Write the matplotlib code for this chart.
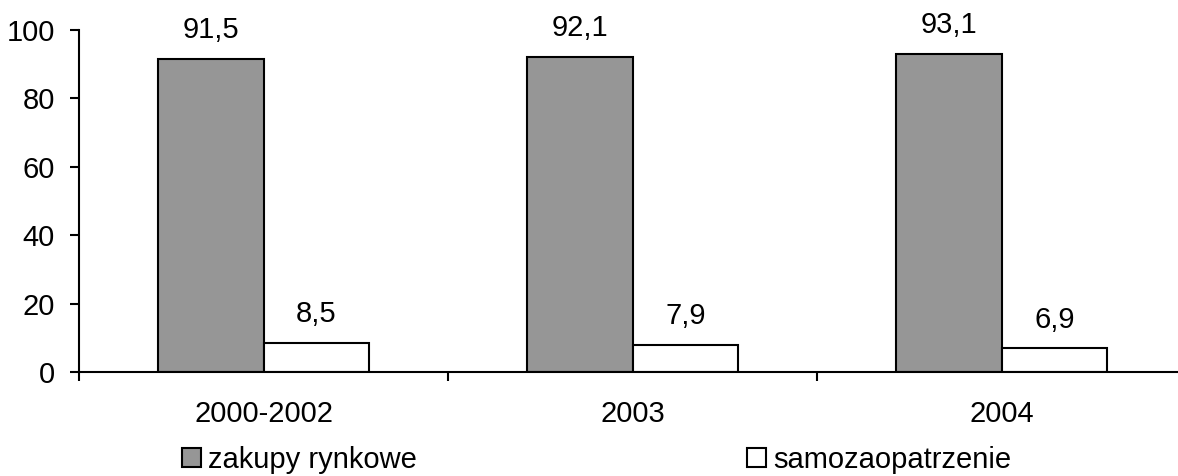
import numpy as np
import matplotlib.pyplot as plt
from matplotlib.patches import Patch

# ---- data ----
categories = ['2000-2002', '2003', '2004']
market = [91.5, 92.1, 93.1]        # zakupy rynkowe
self_supply = [8.5, 7.9, 6.9]      # samozaopatrzenie
labels = ['zakupy rynkowe', 'samozaopatrzenie']

plt.rcParams['font.family'] = ['Liberation Sans', 'DejaVu Sans']
fs = 21

fig = plt.figure(figsize=(11.78, 4.76), dpi=100)
W, H = 1178, 476
ax = fig.add_axes([79 / W, (H - 372) / H, 1107 / W, 342 / H])

x = np.arange(len(categories))
w = 0.287
b1 = ax.bar(x - w / 2, market, w, color='#969696', edgecolor='black', linewidth=1.5)
b2 = ax.bar(x + w / 2, self_supply, w, color='white', edgecolor='black', linewidth=1.5)

for bars, vals in [(b1, market), (b2, self_supply)]:
    for r, v in zip(bars, vals):
        ax.annotate(f'{v:.1f}'.replace('.', ','), (r.get_x() + r.get_width() / 2, v),
                    xytext=(0, 15), textcoords='offset points',
                    ha='center', va='baseline', fontsize=fs)

ax.set_xlim(-0.5, 2.5)
ax.set_ylim(0, 100)
ax.set_yticks(range(0, 101, 20))
ax.tick_params(axis='y', labelsize=fs, length=6.5, width=1.5, pad=11)

# boundaries as major ticks, category names on minor ticks
ax.set_xticks([-0.5, 0.5, 1.5])
ax.set_xticklabels([])
ax.set_xticks(x, minor=True)
ax.set_xticklabels(categories, minor=True)
ax.tick_params(axis='x', which='major', length=6.5, width=1.5)
ax.tick_params(axis='x', which='minor', length=0, labelsize=fs, pad=20)

for s in ['top', 'right']:
    ax.spines[s].set_visible(False)
for s in ['left', 'bottom']:
    ax.spines[s].set_linewidth(1.5)
ax.spines['bottom'].set_clip_on(False)

h1 = Patch(facecolor='#969696', edgecolor='black', linewidth=1.5)
h2 = Patch(facecolor='white', edgecolor='black', linewidth=1.5)
for h, lab, xl in [(h1, labels[0], 182), (h2, labels[1], 747)]:
    fig.legend([h], [lab], loc='center left', bbox_to_anchor=(xl / W, 1 - 460 / H),
               frameon=False, fontsize=fs, handlelength=0.65, handleheight=0.65,
               handletextpad=0.25, borderpad=0, borderaxespad=0)

fig.savefig('out.png', dpi=100)
